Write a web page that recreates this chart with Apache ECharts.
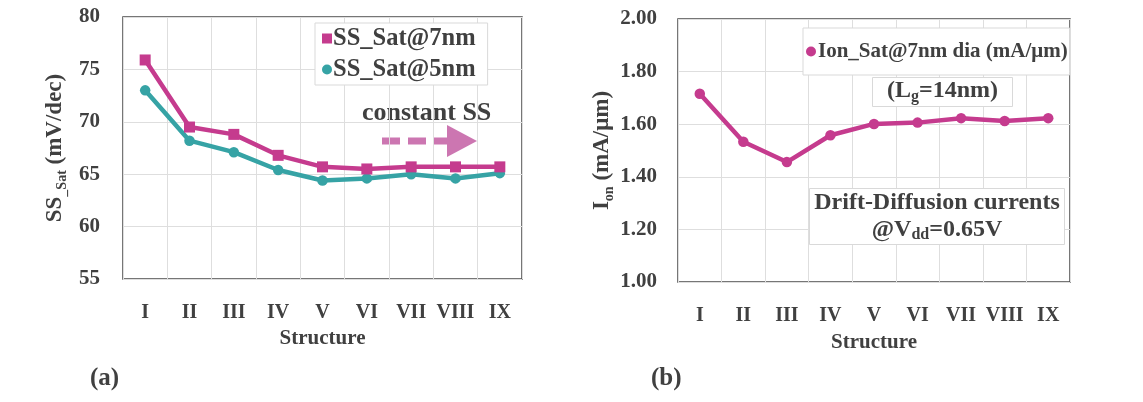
<!DOCTYPE html>
<html>
<head>
<meta charset="utf-8">
<script src="https://cdn.jsdelivr.net/npm/echarts@6/dist/echarts.min.js"></script>
<style>
  html, body { margin: 0; padding: 0; background: #fff; }
  #chart { width: 1143px; height: 402px; }
</style>
</head>
<body>
<div id="chart"></div>
<script>
// structures on the x axis (both panels)
const structures = ["I", "II", "III", "IV", "V", "VI", "VII", "VIII", "IX"];
// (a) subthreshold swing, mV/dec
const ss7nm = [75.9, 69.5, 68.8, 66.8, 65.7, 65.5, 65.7, 65.7, 65.7];
const ss5nm = [73.0, 68.2, 67.1, 65.4, 64.4, 64.6, 65.0, 64.6, 65.1];
// (b) on current, mA/um
const ion7nm = [1.716, 1.533, 1.456, 1.558, 1.601, 1.606, 1.623, 1.612, 1.623];

const FONT = "Liberation Serif";
const TXT = "#404040";
const PINK = "#c53b8e";
const TEAL = "#36a3a5";
const ARROW = "#cc76b1";

const chart = echarts.init(document.getElementById("chart"));

const gridStyle = { show: true, borderColor: "#4a4a4a", borderWidth: 1.5, backgroundColor: "transparent" };

function catAxis (gridIndex, nameGap) {
  return {
    type: "category",
    gridIndex,
    data: structures,
    boundaryGap: true,
    name: "Structure",
    nameLocation: "middle",
    nameGap,
    nameTextStyle: { fontFamily: FONT, fontWeight: "bold", fontSize: 21, color: TXT },
    axisLine: { show: false },
    axisTick: { show: false },
    axisLabel: { margin: 24, fontFamily: FONT, fontWeight: "bold", fontSize: 20, color: TXT, interval: 0 },
    splitLine: { show: true, interval: 0, lineStyle: { color: "#dedede", width: 1 } },
  };
}

const nameRich = {
  a: { fontFamily: FONT, fontWeight: "bold", fontSize: 23, color: TXT, lineHeight: 28 },
  s: { fontFamily: FONT, fontWeight: "bold", fontSize: 14, color: TXT, lineHeight: 14, verticalAlign: "bottom" },
};

const option = {
  backgroundColor: "#ffffff",
  animation: false,
  textStyle: { fontFamily: FONT },
  grid: [
    Object.assign({ left: 123, top: 17, width: 399, height: 262 }, gridStyle),
    Object.assign({ left: 678, top: 19, width: 392, height: 263 }, gridStyle),
  ],
  xAxis: [catAxis(0, 49), catAxis(1, 50)],
  yAxis: [
    {
      type: "value",
      gridIndex: 0,
      min: 55,
      max: 80,
      interval: 5,
      name: "{a|SS}{s|_Sat}{a| (mV/dec)}",
      nameLocation: "middle",
      nameGap: 54,
      nameRotate: 90,
      nameTextStyle: { rich: nameRich },
      axisLine: { show: false },
      axisTick: { show: false },
      axisLabel: { margin: 23, fontFamily: FONT, fontWeight: "bold", fontSize: 21, color: TXT },
      splitLine: { show: true, lineStyle: { color: "#dedede", width: 1 } },
    },
    {
      type: "value",
      gridIndex: 1,
      min: 1,
      max: 2,
      interval: 0.2,
      name: "{a|I}{s|on}{a| (mA/μm)}",
      nameLocation: "middle",
      nameGap: 62,
      nameRotate: 90,
      nameTextStyle: { rich: nameRich },
      axisLine: { show: false },
      axisTick: { show: false },
      axisLabel: {
        margin: 21, fontFamily: FONT, fontWeight: "bold", fontSize: 21, color: TXT,
        formatter: (v) => v.toFixed(2),
      },
      splitLine: { show: true, lineStyle: { color: "#dedede", width: 1 } },
    },
  ],
  legend: [
    {
      data: [
        { name: "SS_Sat@7nm", icon: "rect" },
        { name: "SS_Sat@5nm", icon: "circle" },
      ],
      orient: "vertical",
      left: 315,
      top: 23,
      padding: [3, 12, 3, 7],
      itemGap: 6,
      itemWidth: 10,
      itemHeight: 10,
      backgroundColor: "#ffffff",
      borderColor: "#d9d9d9",
      borderWidth: 1,
      borderRadius: 0,
      selectedMode: false,
      textStyle: { fontFamily: FONT, fontWeight: "bold", fontSize: 24.5, color: TXT, padding: [0, 0, 0, -4] },
    },
    {
      data: [{ name: "Ion_Sat@7nm dia (mA/μm)", icon: "circle" }],
      left: 803,
      top: 28,
      padding: [13, 2, 13, 3],
      itemWidth: 10,
      itemHeight: 10,
      backgroundColor: "#ffffff",
      borderColor: "#d9d9d9",
      borderWidth: 1,
      borderRadius: 0,
      selectedMode: false,
      textStyle: { fontFamily: FONT, fontWeight: "bold", fontSize: 21, color: TXT, padding: [0, 0, 0, -3] },
    },
  ],
  title: [
    {
      text: "{a|(L}{s|g}{a|=14nm)}",
      left: 872,
      top: 75,
      padding: [2, 15, 2, 15],
      backgroundColor: "#ffffff",
      borderColor: "#d9d9d9",
      borderWidth: 1,
      textStyle: {
        rich: {
          a: { fontFamily: FONT, fontWeight: "bold", fontSize: 24, color: TXT, lineHeight: 28 },
          s: { fontFamily: FONT, fontWeight: "bold", fontSize: 16, color: TXT, lineHeight: 15, verticalAlign: "bottom" },
        },
      },
    },
    {
      text: "{a|Drift-Diffusion currents}\n{a|@V}{s|dd}{a|=0.65V}",
      left: 807,
      top: 187,
      padding: [2, 5, 2, 5],
      backgroundColor: "#ffffff",
      borderColor: "#d9d9d9",
      borderWidth: 1,
      textStyle: {
        width: 250,
        rich: {
          a: { fontFamily: FONT, fontWeight: "bold", fontSize: 24, color: TXT, lineHeight: 27, align: "center" },
          s: { fontFamily: FONT, fontWeight: "bold", fontSize: 16, color: TXT, lineHeight: 15, verticalAlign: "bottom", align: "center" },
        },
      },
    },
  ],
  graphic: [
    {
      type: "text",
      left: 362,
      top: 100,
      style: { text: "constant SS", fontFamily: FONT, fontWeight: "bold", fontSize: 26, fill: TXT },
    },
    {
      type: "line",
      shape: { x1: 382, y1: 141, x2: 449, y2: 141 },
      style: { stroke: ARROW, lineWidth: 7, lineDash: [18, 8] },
    },
    {
      type: "polygon",
      shape: { points: [[447, 125], [477, 141], [447, 157]] },
      style: { fill: ARROW },
    },
    {
      type: "text",
      left: 90,
      top: 366,
      style: { text: "(a)", fontFamily: FONT, fontWeight: "bold", fontSize: 25, fill: TXT },
    },
    {
      type: "text",
      left: 651,
      top: 366,
      style: { text: "(b)", fontFamily: FONT, fontWeight: "bold", fontSize: 25, fill: TXT },
    },
  ],
  series: [
    {
      name: "SS_Sat@7nm",
      type: "line",
      xAxisIndex: 0,
      yAxisIndex: 0,
      data: ss7nm,
      symbol: "rect",
      symbolSize: 11,
      lineStyle: { color: PINK, width: 4.5 },
      itemStyle: { color: PINK },
      z: 3,
    },
    {
      name: "SS_Sat@5nm",
      type: "line",
      xAxisIndex: 0,
      yAxisIndex: 0,
      data: ss5nm,
      symbol: "circle",
      symbolSize: 10.5,
      lineStyle: { color: TEAL, width: 4.5 },
      itemStyle: { color: TEAL },
      z: 2,
    },
    {
      name: "Ion_Sat@7nm dia (mA/μm)",
      type: "line",
      xAxisIndex: 1,
      yAxisIndex: 1,
      data: ion7nm,
      symbol: "circle",
      symbolSize: 10.5,
      lineStyle: { color: PINK, width: 4.5 },
      itemStyle: { color: PINK },
    },
  ],
};

chart.setOption(option);
</script>
</body>
</html>
